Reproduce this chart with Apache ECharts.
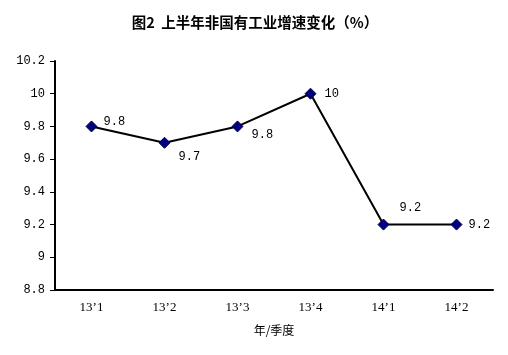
<!DOCTYPE html>
<html><head><meta charset="utf-8">
<script src="https://cdn.jsdelivr.net/npm/echarts@6/dist/echarts.min.js"></script>
<style>html,body{margin:0;padding:0;background:#fff}#c{width:508px;height:355px}</style>
</head><body><div id="c"></div>
<script>
const categories = ["13’1", "13’2", "13’3", "13’4", "14’1", "14’2"];
const values = [9.8, 9.7, 9.8, 10, 9.2, 9.2];
const yTicks = [8.8, 9, 9.2, 9.4, 9.6, 9.8, 10, 10.2];
const labelOffsets = [[-2, -5], [0, 14], [0, 8], [0, 0], [2, -17], [-2, 0]];
const title = "图2  上半年非国有工业增速变化（%）";
const xName = "年/季度";

const chart = echarts.init(document.getElementById('c'));
chart.setOption({
  animation: false,
  title: {text: title, left: 250, top: 10, textAlign: 'center',
    textStyle: {fontSize: 14.5, fontWeight: 'bold', color: '#000', fontFamily: 'Noto Sans CJK SC'}},
  grid: {left: 55, right: 15, top: 61, bottom: 65},
  xAxis: {type: 'category', data: categories, boundaryGap: true,
    name: xName, nameLocation: 'middle', nameGap: 34,
    nameTextStyle: {fontSize: 12, color: '#000', fontFamily: 'Noto Sans CJK SC'},
    axisLine: {lineStyle: {color: '#000', width: 2}},
    axisTick: {inside: true, length: 5, lineStyle: {color: '#000', width: 1}},
    axisLabel: {fontSize: 13, color: '#000', margin: 11, fontFamily: 'Liberation Serif'}},
  yAxis: {type: 'value', min: 8.8, max: 10.2, interval: 0.2,
    splitLine: {show: false},
    axisLine: {show: true, lineStyle: {color: '#000', width: 2}},
    axisTick: {show: true, length: 5, lineStyle: {color: '#000'}},
    axisLabel: {fontSize: 12, color: '#000', margin: 10, fontFamily: 'Liberation Mono',
      formatter: v => { const t = yTicks.find(x => Math.abs(x - v) < 1e-6); return t === undefined ? '' : String(t); }}},
  series: [{type: 'line', data: values.map((v, i) => ({value: v,
      label: {show: true, position: 'right', offset: labelOffsets[i]}})),
    symbol: 'diamond', symbolSize: 11,
    itemStyle: {color: '#000080', borderColor: '#000040', borderWidth: 1},
    lineStyle: {color: '#000', width: 2},
    label: {fontSize: 12, color: '#000', fontFamily: 'Liberation Mono', distance: 8}}]
});
</script></body></html>
